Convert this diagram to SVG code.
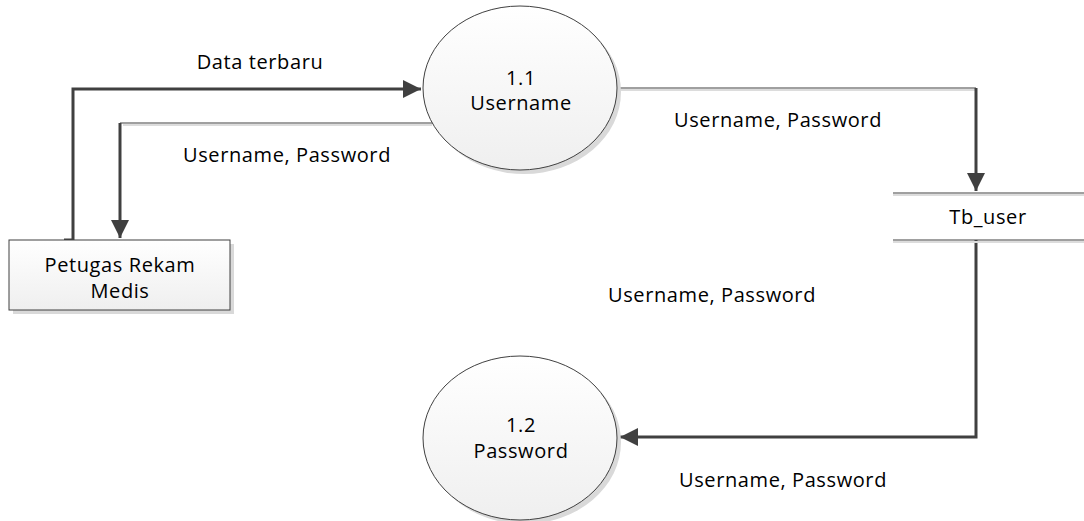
<svg xmlns="http://www.w3.org/2000/svg" width="1084" height="521" viewBox="0 0 1084 521">
<style>
.lbl{font-family:"Open Sans","Liberation Sans",sans-serif;font-size:20px;letter-spacing:0.6px;fill:#000;}
.node{fill:url(#g);stroke:#404040;stroke-width:1;}
.shadow{fill:#d9d9d9;stroke:none;}
.thick{fill:none;stroke:#404040;stroke-width:3;}
.thin{fill:none;stroke:#404040;stroke-width:1;}
.thinsh{fill:none;stroke:#dcdcdc;stroke-width:2;}
.store{stroke:#404040;stroke-width:1;}
</style>
<defs>
<linearGradient id="g" x1="0" y1="0" x2="0" y2="1">
<stop offset="0" stop-color="#ffffff"/>
<stop offset="1" stop-color="#efefef"/>
</linearGradient>
<marker id="arr" viewBox="0 0 10 10" refX="10" refY="5" markerWidth="6" markerHeight="6" markerUnits="strokeWidth" orient="auto">
<path d="M0,0 L10,5 L0,10 z" fill="#404040"/>
</marker>
</defs>
<rect width="1084" height="521" fill="#fff"/>
<g id="connectors">
<path class="thick" d="M64,240 H73 V89 H421" marker-end="url(#arr)"/>
<path class="thinsh" d="M432,125 H123"/>
<path class="thin" d="M433,123 H120"/>
<path class="thick" d="M120,123 V238" marker-end="url(#arr)"/>
<path class="thinsh" d="M617,90 H976"/>
<path class="thin" d="M617,88 H976"/>
<path class="thick" d="M976,88 V191" marker-end="url(#arr)"/>
<path class="thick" d="M976,240 V437 H620" marker-end="url(#arr)"/>
</g>
<g id="petugas">
<rect class="shadow" x="13" y="244" width="221" height="70"/>
<rect class="node" x="9" y="240" width="221" height="70"/>
<text class="lbl" x="120" y="272" text-anchor="middle">Petugas Rekam</text>
<text class="lbl" x="120" y="298" text-anchor="middle">Medis</text>
</g>
<g id="p11">
<ellipse class="shadow" cx="524" cy="92" rx="97" ry="82"/>
<ellipse class="node" cx="520" cy="88" rx="97" ry="82"/>
<text class="lbl" x="521" y="85" text-anchor="middle">1.1</text>
<text class="lbl" x="521" y="110" text-anchor="middle">Username</text>
</g>
<g id="p12">
<ellipse class="shadow" cx="524" cy="442" rx="97" ry="82"/>
<ellipse class="node" cx="520" cy="438" rx="97" ry="82"/>
<text class="lbl" x="521" y="432" text-anchor="middle">1.2</text>
<text class="lbl" x="521" y="458" text-anchor="middle">Password</text>
</g>
<g id="tbuser">
<line x1="893" y1="195" x2="1084" y2="195" stroke="#dcdcdc" stroke-width="2"/>
<line x1="893" y1="242" x2="1084" y2="242" stroke="#dcdcdc" stroke-width="2"/>
<line class="store" x1="893" y1="193" x2="1084" y2="193"/>
<line class="store" x1="893" y1="240" x2="1084" y2="240"/>
<text class="lbl" x="988" y="224" text-anchor="middle">Tb_user</text>
</g>
<g id="labels">
<text class="lbl" x="260" y="69" text-anchor="middle">Data terbaru</text>
<text class="lbl" x="287" y="162" text-anchor="middle">Username, Password</text>
<text class="lbl" x="778" y="127" text-anchor="middle">Username, Password</text>
<text class="lbl" x="712" y="302" text-anchor="middle">Username, Password</text>
<text class="lbl" x="783" y="487" text-anchor="middle">Username, Password</text>
</g>
</svg>
